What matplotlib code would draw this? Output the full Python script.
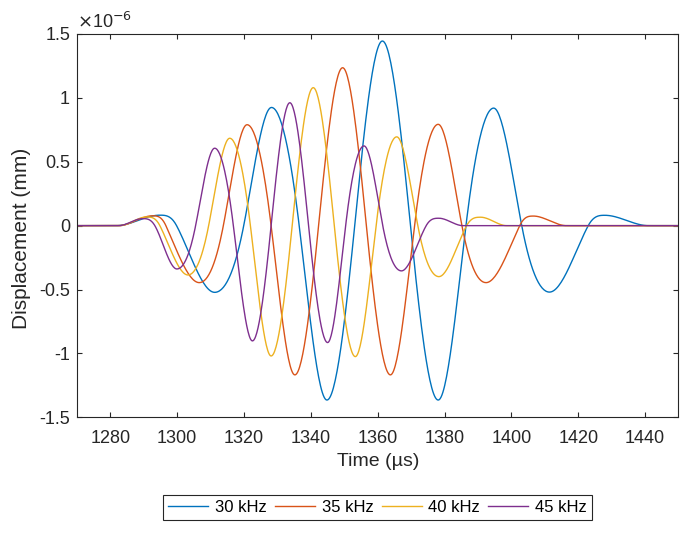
import numpy as np
import matplotlib.pyplot as plt

plt.rcParams['font.family'] = ['Liberation Sans', 'DejaVu Sans']
plt.rcParams['axes.unicode_minus'] = False

# key points: zero levels, extrema and zero crossings
# time in microseconds, displacement in units of 1e-6 mm
t_30 = [1270, 1281.8, 1294.8, 1299.8, 1311.2, 1319.9, 1328.2, 1336.5, 1344.8, 1353.1, 1361.4,
        1369.8, 1378.1, 1386.4, 1394.7, 1403.1, 1411.4, 1423.0, 1428.0, 1441.0, 1450]
d_30 = [0, 0, 0.082, 0, -0.522, 0, 0.925, 0, -1.365, 0, 1.445,
        0, -1.365, 0, 0.92, 0, -0.52, 0, 0.081, 0, 0]

t_35 = [1270, 1282.5, 1292.6, 1296.6, 1306.6, 1313.8, 1320.9, 1328.1, 1335.2, 1342.3, 1349.5,
        1356.6, 1363.8, 1371.0, 1378.1, 1385.2, 1392.4, 1402.5, 1406.6, 1416.5, 1450]
d_35 = [0, 0, 0.077, 0, -0.446, 0, 0.79, 0, -1.168, 0, 1.236,
        0, -1.168, 0, 0.793, 0, -0.446, 0, 0.075, 0, 0]

t_40 = [1270, 1282.8, 1290.8, 1294.8, 1303.2, 1309.4, 1315.7, 1321.9, 1328.1, 1334.4, 1340.7,
        1347.0, 1353.3, 1359.5, 1365.7, 1372.0, 1378.3, 1386.6, 1390.8, 1398.6, 1450]
d_40 = [0, 0, 0.068, 0, -0.386, 0, 0.684, 0, -1.02, 0, 1.08,
        0, -1.025, 0, 0.695, 0, -0.399, 0, 0.066, 0, 0]

t_45 = [1270, 1282.5, 1289.6, 1293.3, 1299.9, 1305.5, 1311.2, 1316.8, 1322.5, 1328.1, 1333.7,
        1339.3, 1345.0, 1350.4, 1355.9, 1361.5, 1367.1, 1374.5, 1378.3, 1385.5, 1450]
d_45 = [0, 0, 0.055, 0, -0.339, 0, 0.606, 0, -0.902, 0, 0.962,
        0, -0.915, 0, 0.624, 0, -0.354, 0, 0.058, 0, 0]

labels = ['30 kHz', '35 kHz', '40 kHz', '45 kHz']
colors = ['#0072BD', '#D95319', '#EDB120', '#7E2F8E']

x_ticks = [1280, 1300, 1320, 1340, 1360, 1380, 1400, 1420, 1440]
y_ticks = [-1.5, -1, -0.5, 0, 0.5, 1, 1.5]


def smooth(t, d, n=30):
    # cubic hermite through the read points, flat at extrema
    t = np.asarray(t, float)
    d = np.asarray(d, float)
    sec = np.diff(d) / np.diff(t)
    m = np.zeros_like(d)
    for i in range(1, len(d) - 1):
        if d[i - 1] * d[i + 1] < 0:
            s = np.pi / 2 * (d[i + 1] - d[i - 1]) / (t[i + 1] - t[i - 1])
            lim = 3 * min(abs(sec[i - 1]), abs(sec[i]))
            m[i] = np.sign(s) * min(abs(s), lim)
    xs, ys = [], []
    u = np.linspace(0, 1, n, endpoint=False)
    for i in range(len(t) - 1):
        h = t[i + 1] - t[i]
        h00 = 2 * u**3 - 3 * u**2 + 1
        h10 = u**3 - 2 * u**2 + u
        h01 = -2 * u**3 + 3 * u**2
        h11 = u**3 - u**2
        xs.append(t[i] + u * h)
        ys.append(h00 * d[i] + h10 * h * m[i] + h01 * d[i + 1] + h11 * h * m[i + 1])
    xs.append([t[-1]])
    ys.append([d[-1]])
    return np.concatenate(xs), np.concatenate(ys)


fig = plt.figure(figsize=(6.98, 5.37), dpi=100)
ax = fig.add_axes([0.1103, 0.2229, 0.8617, 0.7138])

for t, d, lab, c in zip([t_30, t_35, t_40, t_45], [d_30, d_35, d_40, d_45], labels, colors):
    xs, ys = smooth(t, d)
    ax.plot(xs, ys, color=c, lw=1.0, label=lab)

ax.set_xlim(1270, 1450)
ax.set_ylim(-1.5, 1.5)
ax.set_xticks(x_ticks)
ax.set_yticks(y_ticks)
ax.set_yticklabels(['%g' % v for v in y_ticks])

dark = '#262626'
for sp in ax.spines.values():
    sp.set_color(dark)
    sp.set_linewidth(0.8)
ax.tick_params(direction='in', length=3.6, width=0.8, colors=dark, labelsize=13,
               top=True, right=True)
ax.tick_params(axis='x', pad=9)
ax.tick_params(axis='y', pad=5)

ax.text(0.0, 1.005, r'$\times$10$^{-6}$', transform=ax.transAxes, ha='left', va='bottom',
        fontsize=13, color=dark)

fig.text(377.8 / 698, 1 - 462 / 537, 'Time (µs)', ha='center', va='center',
         fontsize=14, color=dark)
fig.text(22 / 698, 1 - 238 / 537, 'Displacement (mm)', ha='center', va='center',
         rotation=90, fontsize=15, color=dark)

leg = fig.legend(loc='center', bbox_to_anchor=(377.5 / 698, 1 - 507.5 / 537), ncol=4,
                 fontsize=12, handlelength=2.4, handletextpad=0.4, columnspacing=0.5,
                 borderpad=0.3, fancybox=False, framealpha=1, edgecolor=dark)
leg.get_frame().set_linewidth(0.8)

fig.savefig('out.png', dpi=100)
